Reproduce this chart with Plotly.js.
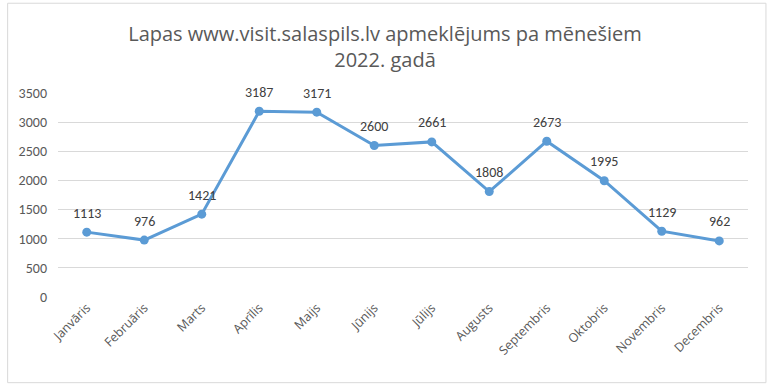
<!DOCTYPE html>
<html>
<head>
<meta charset="utf-8">
<script src="https://cdn.plot.ly/plotly-3.0.1.min.js"></script>
<style>html,body{margin:0;padding:0;background:#fff;}#chart{width:770px;height:384px;}</style>
</head>
<body>
<div id="chart"></div>
<script>
const months = ["Janvāris","Februāris","Marts","Aprīlis","Maijs","Jūnijs","Jūlijs","Augusts","Septembris","Oktobris","Novembris","Decembris"];
const visits = [1113, 976, 1421, 3187, 3171, 2600, 2661, 1808, 2673, 1995, 1129, 962];
const yTicks = [0, 500, 1000, 1500, 2000, 2500, 3000, 3500];

const trace = {
  x: months,
  y: visits,
  type: "scatter",
  mode: "lines+markers",
  line: {color: "#5B9BD5", width: 3},
  marker: {color: "#5B9BD5", size: 9},
  cliponaxis: false,
  hoverinfo: "x+y"
};

const labels = months.map((m, i) => ({
  x: m, y: visits[i], xref: "x", yref: "y",
  text: String(visits[i]), showarrow: false,
  yshift: 19,
  font: {family: "Carlito, Calibri, 'Liberation Sans', sans-serif", size: 14, color: "#404040"}
}));

const layout = {
  width: 770, height: 384,
  margin: {l: 58, r: 22, t: 93, b: 87},
  paper_bgcolor: "#fff", plot_bgcolor: "#fff",
  showlegend: false,
  title: {
    text: "Lapas www.visit.salaspils.lv apmeklējums pa mēnešiem<br>2022. gadā",
    font: {family: "'Open Sans', sans-serif", size: 20, color: "#595959"},
    x: 0.5, xanchor: "center", y: 0.894, yanchor: "top"
  },
  xaxis: {
    type: "category",
    range: [-0.5, 11.5],
    tickangle: -45,
    tickfont: {family: "'Open Sans', sans-serif", size: 12.5, color: "#595959"},
    showgrid: false, zeroline: false, showline: false, ticks: ""
  },
  yaxis: {
    range: [0, 3500],
    tickvals: yTicks,
    ticktext: yTicks.map(String),
    tickfont: {family: "Carlito, Calibri, 'Liberation Sans', sans-serif", size: 14, color: "#595959"},
    gridcolor: "#D9D9D9", gridwidth: 1,
    zeroline: false, showline: false, ticks: "",
    ticklabelstandoff: 10,
    automargin: false
  },
  annotations: labels,
  shapes: [{
    type: "rect", xref: "paper", yref: "paper",
    x0: -0.073, x1: 1.026, y0: -0.42, y1: 1.44,
    line: {color: "#D9D9D9", width: 1}
  }]
};

Plotly.newPlot("chart", [trace], layout, {displayModeBar: false, staticPlot: true});
</script>
</body>
</html>
